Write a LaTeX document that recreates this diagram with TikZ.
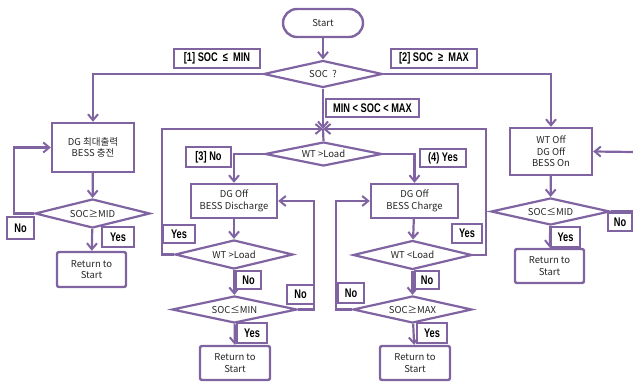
\documentclass[tikz,border=0pt]{standalone}
\usepackage{fontspec}
\setmainfont{Noto Sans CJK KR}
\newfontfamily\lblfont[FakeStretch=0.74]{Liberation Sans Bold}
\usetikzlibrary{shapes.geometric,arrows.meta}
\definecolor{flowpurple}{HTML}{8064A2}
\begin{document}
\begin{tikzpicture}[x=1pt, y=-1pt,
  every node/.style={font=\fontsize{9.5}{11.5}\selectfont, text=black!85},
  >={Straight Barb[length=6pt,width=10pt,line width=2pt]},
  line/.style={draw=flowpurple, line width=2.2pt},
  proc/.style={draw=flowpurple, line width=2.4pt, fill=white, align=center, inner sep=0pt},
  cond/.style={diamond, aspect=4, draw=flowpurple, line width=2.2pt, fill=white, inner sep=0pt},
  tag/.style={draw=flowpurple, line width=2pt, fill=white, inner sep=0pt,
    font=\lblfont\fontsize{12.5}{13}\selectfont, text=black}]

  \useasboundingbox (0,0) rectangle (633,382);

  %% boxes
  \node[proc, rounded corners=14pt, minimum width=80pt, minimum height=28pt] (start) at (323,23) {Start};
  \node[cond, minimum width=119pt, minimum height=27pt] (soc) at (323,74) {SOC\ \ ?};

  \node[proc, minimum width=82pt, minimum height=49pt] (dgmax) at (93,147.5) {DG 최대출력\\BESS 충전};
  \node[cond, minimum width=115pt, minimum height=29pt] (mid1) at (92.5,213.5) {SOC≥MID};
  \node[proc, rounded corners=2pt, minimum width=69pt, minimum height=35pt] (ret1) at (91.5,269.5) {Return to\\Start};

  \node[cond, minimum width=117pt, minimum height=24pt] (wtmain) at (323.5,154) {WT\ >Load};

  \node[proc, minimum width=86pt, minimum height=34pt] (dis) at (234,201) {DG Off\\BESS Discharge};
  \node[cond, minimum width=118pt, minimum height=29pt] (wt1) at (234,254.5) {WT\ >Load};
  \node[cond, minimum width=125pt, minimum height=27pt] (socmin) at (234.5,309.5) {SOC≤MIN};
  \node[proc, rounded corners=2pt, minimum width=70pt, minimum height=34pt] (ret2) at (235,363) {Return to\\Start};

  \node[proc, minimum width=87pt, minimum height=34pt] (chg) at (414.5,201) {DG Off\\BESS Charge};
  \node[cond, minimum width=119pt, minimum height=29pt] (wt2) at (412.5,255) {WT\ <Load};
  \node[cond, minimum width=119pt, minimum height=27pt] (socmax) at (412.5,309.5) {SOC≥MAX};
  \node[proc, rounded corners=2pt, minimum width=70pt, minimum height=34pt] (ret3) at (415,363) {Return to\\Start};

  \node[proc, minimum width=82pt, minimum height=47pt] (wtoff) at (551,151.5) {WT Off\\DG Off\\BESS On};
  \node[cond, minimum width=119pt, minimum height=27pt] (mid2) at (550.5,211.5) {SOC≤MID};
  \node[proc, rounded corners=2pt, minimum width=69pt, minimum height=34pt] (ret4) at (549.5,266) {Return to\\Start};

  %% free ends
  \coordinate (merge) at (323,129);
  \coordinate (lcorner) at (162,129);
  \coordinate (rcorner) at (486,129);
  \coordinate (loop1) at (14,213.5);
  \coordinate (dloop) at (314,309.5);
  \coordinate (cloop) at (336,309.5);
  \coordinate (redge) at (633,152);
  \coordinate (redge2) at (633,211.5);

  %% connectors
  \draw[line, ->] (start) -- (soc);
  \draw[line, ->] (soc.west) -| (dgmax.north);
  \draw[line, ->] (soc.east) -| (wtoff.north);
  \draw[line, ->] (soc.south) -- (merge);
  \draw[line] (merge) -- (wtmain.north);

  \draw[line, ->] (dgmax) -- (mid1);
  \draw[line, ->] (mid1.west) -- (loop1) |- (dgmax.west);
  \draw[line, ->] (mid1) -- (ret1);

  \draw[line, ->] (wtmain.west) -| (dis.north);
  \draw[line, ->] (wtmain.east) -| (chg.north);

  \draw[line, ->] (dis) -- (wt1);
  \draw[line, ->] (wt1.west) -| (lcorner) -- (merge);
  \draw[line, ->] (wt1) -- (socmin);
  \draw[line, ->] (socmin.east) -- (dloop) |- (dis.east);
  \draw[line, ->] (socmin) -- (ret2);

  \draw[line, ->] (chg) -- (wt2);
  \draw[line, ->] (wt2.east) -| (rcorner) -- (merge);
  \draw[line, ->] (wt2) -- (socmax);
  \draw[line, ->] (socmax.west) -- (cloop) |- (chg.west);
  \draw[line, ->] (socmax) -- (ret3);

  \draw[line, ->] (wtoff) -- (mid2);
  \draw[line, ->] (redge) -- (wtoff.east);
  \draw[line] (mid2.east) -- (redge2);
  \draw[line, ->] (mid2) -- (ret4);

  %% labels
  \node[tag, minimum width=86pt, minimum height=19pt] (t1) at (217,58.5) {[1] SOC\ \ ≤\ \ MIN};
  \node[tag, minimum width=86pt, minimum height=19pt] (t2) at (434,58.5) {[2] SOC\ \ ≥\ \ MAX};
  \node[tag, minimum width=93pt, minimum height=18pt] (t3) at (372.5,108) {MIN < SOC < MAX};
  \node[tag, minimum width=45pt, minimum height=20pt] (t4) at (208.5,157) {[3] No};
  \node[tag, minimum width=46pt, minimum height=18pt] (t5) at (443,158) {(4) Yes};

  \node[tag, minimum width=27pt, minimum height=22pt] (n1) at (20.5,228) {No};
  \node[tag, minimum width=32pt, minimum height=20pt] (y1) at (118,237) {Yes};

  \node[tag, minimum width=32pt, minimum height=18pt] (y2) at (179,234) {Yes};
  \node[tag, minimum width=25pt, minimum height=18pt] (n2) at (248.5,280) {No};
  \node[tag, minimum width=27pt, minimum height=19pt] (n3) at (300.5,294.5) {No};
  \node[tag, minimum width=30pt, minimum height=20pt] (y3) at (252,333) {Yes};

  \node[tag, minimum width=30pt, minimum height=19pt] (y4) at (467,233.5) {Yes};
  \node[tag, minimum width=24pt, minimum height=18pt] (n4) at (427,280) {No};
  \node[tag, minimum width=26pt, minimum height=20pt] (n5) at (351,293) {No};
  \node[tag, minimum width=30pt, minimum height=20pt] (y5) at (432,333) {Yes};

  \node[tag, minimum width=24pt, minimum height=18pt] (n6) at (620,222) {No};
  \node[tag, minimum width=29pt, minimum height=20pt] (y6) at (565.5,237) {Yes};

\end{tikzpicture}
\end{document}
